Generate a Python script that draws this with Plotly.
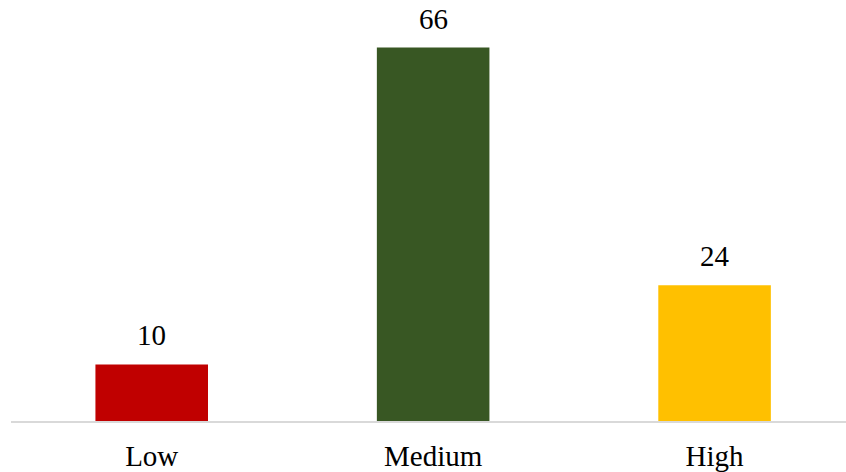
import plotly.graph_objects as go

categories = ["Low", "Medium", "High"]
values = [10, 66, 24]
colors = ["#C00000", "#385723", "#FFC000"]

FONT = "Liberation Serif"

fig = go.Figure()
fig.add_trace(go.Bar(
    x=categories, y=values, marker=dict(color=colors, line=dict(width=0)),
    width=0.4, cliponaxis=False,
))

for c, v in zip(categories, values):
    fig.add_annotation(x=c, y=v, text=str(v), showarrow=False, yanchor="bottom",
                       yshift=11, font=dict(family=FONT, size=29, color="#000000"))

fig.update_layout(
    width=846, height=472,
    margin=dict(l=11, r=0, t=0, b=51),
    paper_bgcolor="white", plot_bgcolor="white",
    showlegend=False,
    font=dict(family=FONT, size=29, color="#000000"),
    xaxis=dict(range=[-0.5, 2.467], showline=True, linecolor="#d9d9d9", linewidth=2,
               showgrid=False, ticks="", zeroline=False, tickfont=dict(size=29),
               ticklabelstandoff=8),
    yaxis=dict(range=[0, 74.4], visible=False, showgrid=False, zeroline=False),
)

fig.write_html("out.html")
